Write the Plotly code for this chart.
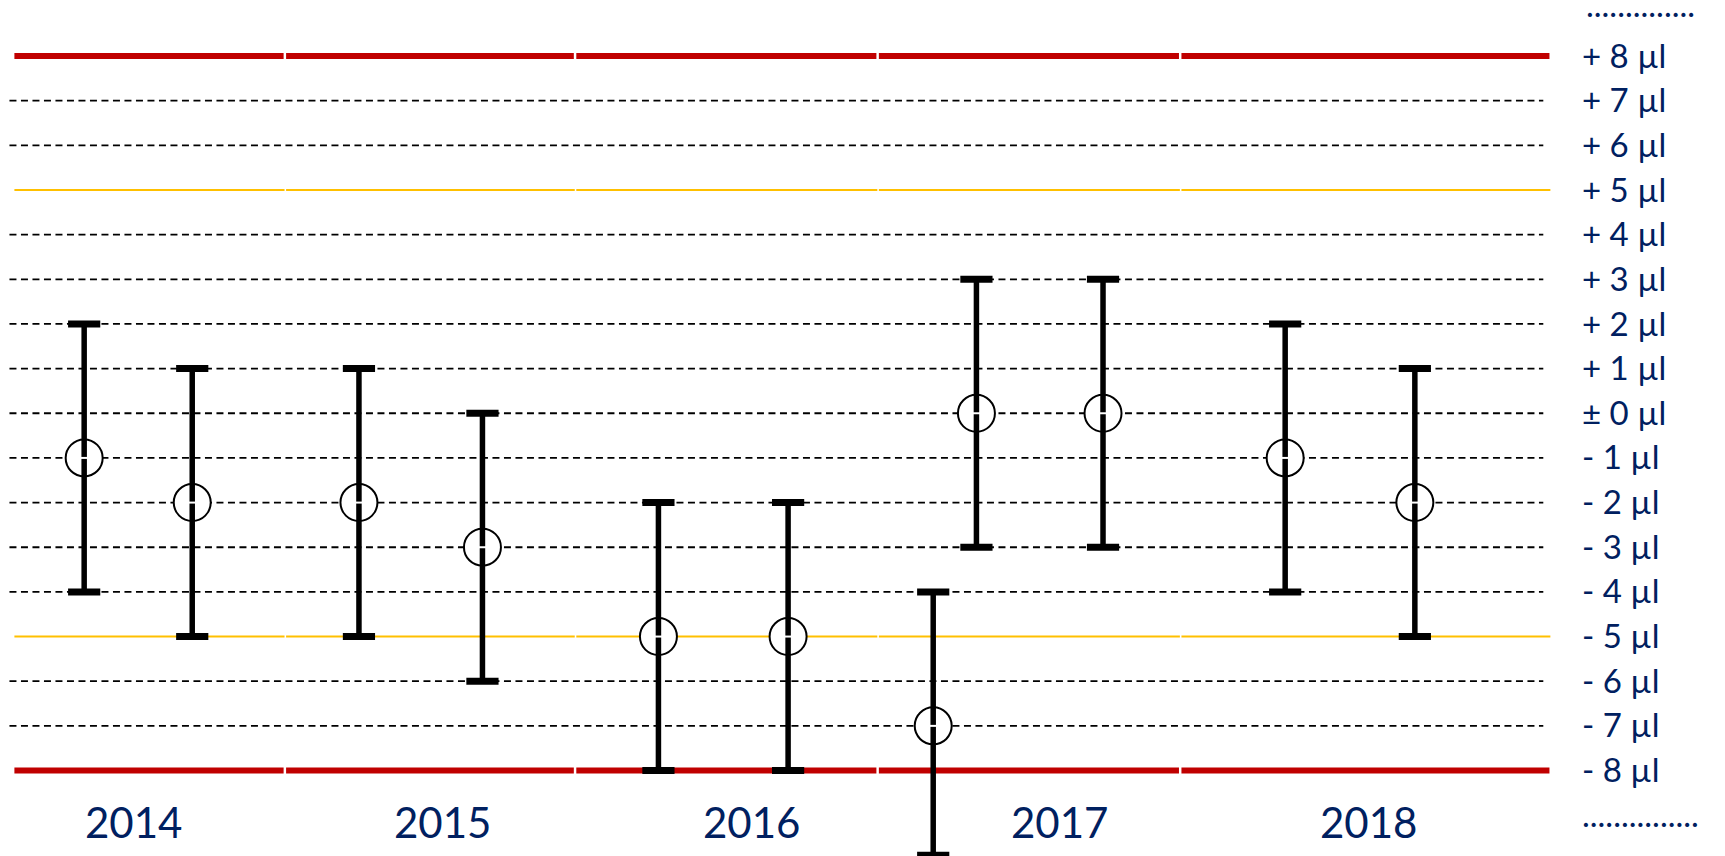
import plotly.graph_objects as go

# ---- data ----
YEARS = [2014, 2015, 2016, 2017, 2018]
# measurement positions in decimal years
MEAS_X = [2013.84, 2014.19, 2014.73, 2015.13, 2015.70, 2016.12, 2016.59, 2016.73, 2017.14, 2017.73, 2018.15]
MEAN = [-1, -2, -2, -3, -5, -5, -7, 0, 0, -1, -2]
UPPER = [2, 1, 1, 0, -2, -2, -4, 3, 3, 2, 1]
LOWER = [-4, -5, -5, -6, -8, -8, -9.9, -3, -3, -4, -5]

TICK_VALS = [8, 7, 6, 5, 4, 3, 2, 1, 0, -1, -2, -3, -4, -5, -6, -7, -8, -9]
TICK_TEXT = ["+ 8 µl", "+ 7 µl", "+ 6 µl", "+ 5 µl", "+ 4 µl", "+ 3 µl", "+ 2 µl", "+ 1 µl",
             "± 0 µl", "- 1 µl", "- 2 µl", "- 3 µl", "- 4 µl", "- 5 µl", "- 6 µl", "- 7 µl", "- 8 µl",
             "..............."]
TOP_DOTS_Y = 9.17
TOP_DOTS_TEXT = ".............."

DASHED_LEVELS = [7, 6, 4, 3, 2, 1, 0, -1, -2, -3, -4, -6, -7]
WARN_LEVELS = [5, -5]
LIMIT_LEVELS = [8, -8]
PANEL_EDGES = [2013.61, 2014.49, 2015.43, 2016.41, 2017.39, 2018.59]

NAVY = "#002060"
RED = "#C00000"
YELLOW = "#FFC000"
FONT = "Lato"

X_RANGE = [2013.603, 2018.591]
Y_RANGE = [-9.914, 9.254]

fig = go.Figure()

# circles (white filled)
fig.add_trace(go.Scatter(
    x=MEAS_X, y=MEAN, mode="markers",
    marker=dict(symbol="circle", size=37, color="white", line=dict(color="black", width=2)),
    hoverinfo="skip", showlegend=False))

# whisker stems
err_plus = [u - m for u, m in zip(UPPER, MEAN)]
err_minus = [m - l for m, l in zip(MEAN, LOWER)]
fig.add_trace(go.Scatter(
    x=MEAS_X, y=MEAN, mode="markers",
    marker=dict(size=1, color="rgba(0,0,0,0)"),
    error_y=dict(type="data", symmetric=False, array=err_plus, arrayminus=err_minus,
                 color="black", thickness=5.5, width=0),
    hoverinfo="skip", showlegend=False))

# thick whisker caps
fig.add_trace(go.Scatter(
    x=MEAS_X + MEAS_X, y=UPPER + LOWER, mode="markers",
    marker=dict(symbol="line-ew", size=23, line=dict(color="black", width=7)),
    hoverinfo="skip", showlegend=False))

# small white notch in the middle of each stem
fig.add_trace(go.Scatter(
    x=MEAS_X, y=MEAN, mode="markers",
    marker=dict(symbol="line-ew", size=9, line=dict(color="white", width=2)),
    hoverinfo="skip", showlegend=False))

shapes = []
for lv in DASHED_LEVELS:
    shapes.append(dict(type="line", xref="paper", yref="y", x0=-0.001, x1=0.995, y0=lv, y1=lv,
                       line=dict(color="black", width=1.8, dash="7px,4.5px"), layer="below"))
gap = 0.004
for lv in WARN_LEVELS:
    for a, b in zip(PANEL_EDGES[:-1], PANEL_EDGES[1:]):
        shapes.append(dict(type="line", xref="x", yref="y", x0=a + gap, x1=b - gap + 0.003, y0=lv, y1=lv,
                           line=dict(color=YELLOW, width=2), layer="below"))
for lv in LIMIT_LEVELS:
    for a, b in zip(PANEL_EDGES[:-1], PANEL_EDGES[1:]):
        shapes.append(dict(type="line", xref="x", yref="y", x0=a + gap, x1=b - gap, y0=lv, y1=lv,
                           line=dict(color=RED, width=6), layer="below"))

annotations = []
for yr in YEARS:
    annotations.append(dict(x=yr, y=-9.15, xref="x", yref="y", text=str(yr), showarrow=False,
                            xanchor="center", yanchor="middle",
                            font=dict(family=FONT, size=42, color=NAVY)))
annotations.append(dict(x=1.0215, y=TOP_DOTS_Y, xref="paper", yref="y", text=TOP_DOTS_TEXT,
                        showarrow=False, xanchor="left", yanchor="middle",
                        font=dict(family=FONT, size=33, color=NAVY)))

fig.update_layout(
    width=1725, height=856,
    margin=dict(l=11, r=174, t=0, b=0, pad=0),
    paper_bgcolor="white", plot_bgcolor="white",
    shapes=shapes, annotations=annotations,
    xaxis=dict(range=X_RANGE, showticklabels=False, showgrid=False, zeroline=False,
               showline=False, ticks=""),
    yaxis=dict(range=Y_RANGE, side="right", tickvals=TICK_VALS,
               ticktext=TICK_TEXT, ticks="", showgrid=False, zeroline=False,
               showline=False, ticklabelstandoff=30,
               tickfont=dict(family=FONT, size=33, color=NAVY)),
    font=dict(family=FONT, color=NAVY),
)

fig.write_html("out.html")
